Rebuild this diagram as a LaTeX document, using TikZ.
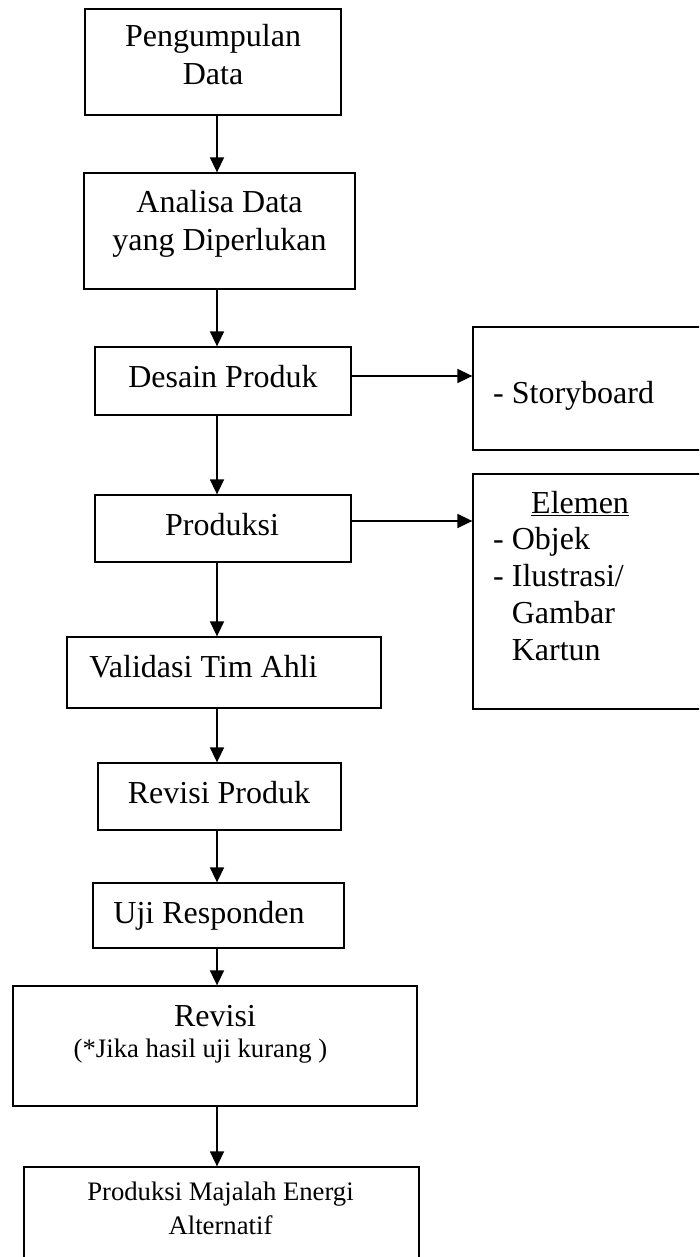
\documentclass[tikz,border=0pt]{standalone}
\usepackage{fontspec}
\setmainfont{Liberation Serif}
\usetikzlibrary{arrows.meta}
\begin{document}
\begin{tikzpicture}[x=1pt,y=-1pt,
  box/.style={draw,line width=1.3pt,inner sep=0pt},
  arr/.style={line width=1.6pt,-{Triangle[length=15pt,width=14pt]}},
  txt/.style={font=\fontsize{32}{38.5}\selectfont,inner sep=0pt,anchor=base,align=center},
  smalltxt/.style={font=\fontsize{26.7}{34}\selectfont,inner sep=0pt,anchor=base,align=center},
  sidetxt/.style={font=\fontsize{32}{36.7}\selectfont,inner sep=0pt,anchor=base west,align=left}]
\clip (0,0) rectangle (699,1257);
% boxes
\node[box,minimum width=256pt,minimum height=106pt] (b1) at (213,62) {};
\node[box,minimum width=271pt,minimum height=116pt] (b2) at (219.5,231) {};
\node[box,minimum width=256pt,minimum height=68pt] (b3) at (223,381) {};
\node[box,minimum width=256pt,minimum height=67pt] (b4) at (223,528.5) {};
\node[box,minimum width=314pt,minimum height=71pt] (b5) at (224,672.5) {};
\node[box,minimum width=243pt,minimum height=67pt] (b6) at (219.5,796.5) {};
\node[box,minimum width=251pt,minimum height=65pt] (b7) at (218.5,915.5) {};
\node[box,minimum width=404pt,minimum height=120pt] (b8) at (215,1046) {};
\node[box,minimum width=395pt,minimum height=110pt] (b9) at (221.5,1222) {};
\node[box,minimum width=239pt,minimum height=123pt] (r1) at (592.5,388.5) {};
\node[box,minimum width=239pt,minimum height=235pt] (r2) at (592.5,591.5) {};
% texts (multi-line nodes are placed at the baseline of their last line)
\node[txt] (t1) at (213,85) {Pengumpulan\\Data};
\node[txt] (t2) at (219.5,251) {Analisa Data\\yang Diperlukan};
\node[txt] (t3) at (223,387) {Desain Produk};
\node[txt] (t4) at (222,535) {Produksi};
\node[txt] (t5) at (203.5,677) {Validasi Tim Ahli};
\node[txt] (t6) at (219,803) {Revisi Produk};
\node[txt] (t7) at (209,923) {Uji Responden};
\node[txt] (t8) at (215,1026) {Revisi};
\node[smalltxt] (t8b) at (200.5,1057) {(*Jika hasil uji kurang )};
\node[smalltxt] (t9) at (220.5,1234) {Produksi Majalah Energi\\Alternatif};
\node[sidetxt] (s1) at (493,403) {- Storyboard};
\node[sidetxt] (s2) at (531,513) {\underline{Elemen}};
\node[sidetxt] (s3) at (493,660) {- Objek\\- Ilustrasi/\\\phantom{- }Gambar\\\phantom{- }Kartun};
% connectors
\coordinate (ax) at (217,0);
\coordinate (h1) at (0,376);
\coordinate (h2) at (0,521);
\draw[arr] (b1.south -| ax) -- (b2.north -| ax);
\draw[arr] (b2.south -| ax) -- (b3.north -| ax);
\draw[arr] (b3.south -| ax) -- (b4.north -| ax);
\draw[arr] (b4.south -| ax) -- (b5.north -| ax);
\draw[arr] (b5.south -| ax) -- (b6.north -| ax);
\draw[arr] (b6.south -| ax) -- (b7.north -| ax);
\draw[arr] (b7.south -| ax) -- (b8.north -| ax);
\draw[arr] (b8.south -| ax) -- (b9.north -| ax);
\draw[arr] (b3.east |- h1) -- (r1.west |- h1);
\draw[arr] (b4.east |- h2) -- (r2.west |- h2);
\end{tikzpicture}
\end{document}
